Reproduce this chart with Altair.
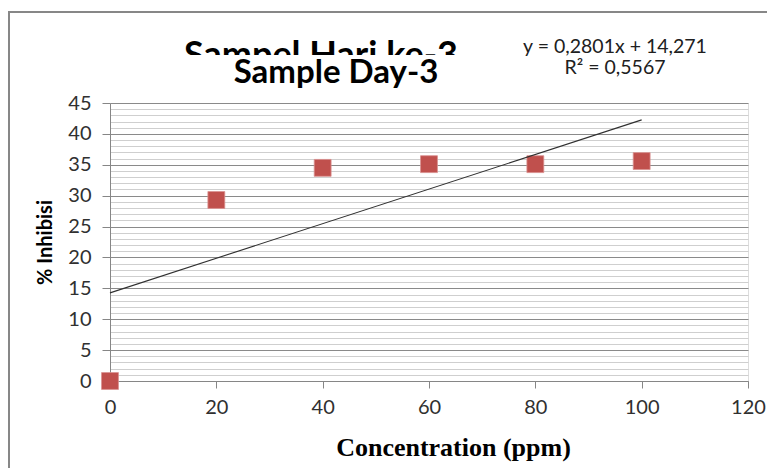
import altair as alt
import pandas as pd

# ---- data ----
concentration = [0, 20, 40, 60, 80, 100]
inhibition = [0.0, 29.3, 34.5, 35.1, 35.1, 35.6]
x_ticks = [0, 20, 40, 60, 80, 100, 120]
y_grid = list(range(0, 46))
title_old = "Sampel Hari ke-3"
title_new = "Sample Day-3"
eq_text = "y = 0,2801x + 14,271"
r2_text = "R² = 0,5567"
x_title = "Concentration (ppm)"
y_title = "% Inhibisi"

df = pd.DataFrame({"x": concentration, "y": inhibition})
one = pd.DataFrame({"k": [0]})

W, H = 638, 278
SANS = "Lato"

xscale = alt.Scale(domain=[0, 120], nice=False, zero=False)
yscale = alt.Scale(domain=[0, 45], nice=False, zero=False)

xaxis = alt.Axis(
    values=x_ticks, grid=False, title=x_title, labelFlush=False,
    domainColor="#868686", domainWidth=1, tickColor="#868686", tickSize=7,
    labelFont=SANS, labelFontSize=20, labelColor="#303030", labelPadding=9,
    titleFont="Liberation Serif", titleFontSize=26, titleFontWeight="bold",
    titleColor="#000000", titleX=343, titleY=74, titleBaseline="alphabetic",
)
yaxis = alt.Axis(
    values=y_grid, title=y_title, labelFlush=False,
    gridColor={"condition": {"test": "datum.value % 5 === 0", "value": "#8a8a8a"}, "value": "#cfcfcf"},
    gridWidth=1,
    tickOpacity={"condition": {"test": "datum.value % 5 === 0", "value": 1}, "value": 0},
    tickColor="#868686", tickSize=8,
    labelExpr="datum.value % 5 === 0 ? datum.label : ''", labelOverlap=False,
    domainColor="#868686",
    labelFont=SANS, labelFontSize=20, labelColor="#303030", labelPadding=11,
    titleFont=SANS, titleFontSize=20, titleFontWeight="bold", titleColor="#000000",
    titlePadding=12,
)

X = alt.X("x:Q", scale=xscale, axis=xaxis)
Y = alt.Y("y:Q", scale=yscale, axis=yaxis)

points = alt.Chart(df).mark_square(size=285, color="#c0504d", opacity=1, stroke="#d9918f", strokeWidth=0.8).encode(
    x=X, y=Y
)

trend = alt.Chart(df).transform_regression("x", "y", extent=[0, 100]).mark_line(
    color="#303030", strokeWidth=1.1
).encode(x=X, y=Y)

border = alt.Chart(one).mark_rect(fill=None, stroke="#878787", strokeWidth=2, clip=False).encode(
    x=alt.value(-101), x2=alt.value(800), y=alt.value(-91), y2=alt.value(500)
)

old_title = alt.Chart(pd.DataFrame({"t": [title_old]})).mark_text(
    font=SANS, fontSize=36, fontWeight="bold", color="#000000", baseline="alphabetic", align="center"
).encode(text="t:N", x=alt.value(211), y=alt.value(-36))

cover = alt.Chart(one).mark_rect(fill="white", stroke=None).encode(
    x=alt.value(60), x2=alt.value(365), y=alt.value(-48), y2=alt.value(-2)
)

new_title = alt.Chart(pd.DataFrame({"t": [title_new]})).mark_text(
    font=SANS, fontSize=33, fontWeight="bold", color="#000000", baseline="alphabetic", align="center"
).encode(text="t:N", x=alt.value(226), y=alt.value(-20))

eq = alt.Chart(pd.DataFrame({"t": [eq_text]})).mark_text(
    font=SANS, fontSize=19.5, color="#202020", baseline="alphabetic", align="center"
).encode(text="t:N", x=alt.value(505), y=alt.value(-50))

r2 = alt.Chart(pd.DataFrame({"t": [r2_text]})).mark_text(
    font=SANS, fontSize=19.5, color="#202020", baseline="alphabetic", align="center"
).encode(text="t:N", x=alt.value(505), y=alt.value(-29))

chart = alt.layer(points, trend, border, old_title, cover, new_title, eq, r2).properties(
    width=W, height=H,
    autosize=alt.AutoSizeParams(type="none"),
    padding={"left": 102, "top": 95, "right": 19, "bottom": 87},
).configure_view(stroke=None).configure(background="white")

chart.save("out.html", embed_options={"renderer": "svg", "actions": False})
